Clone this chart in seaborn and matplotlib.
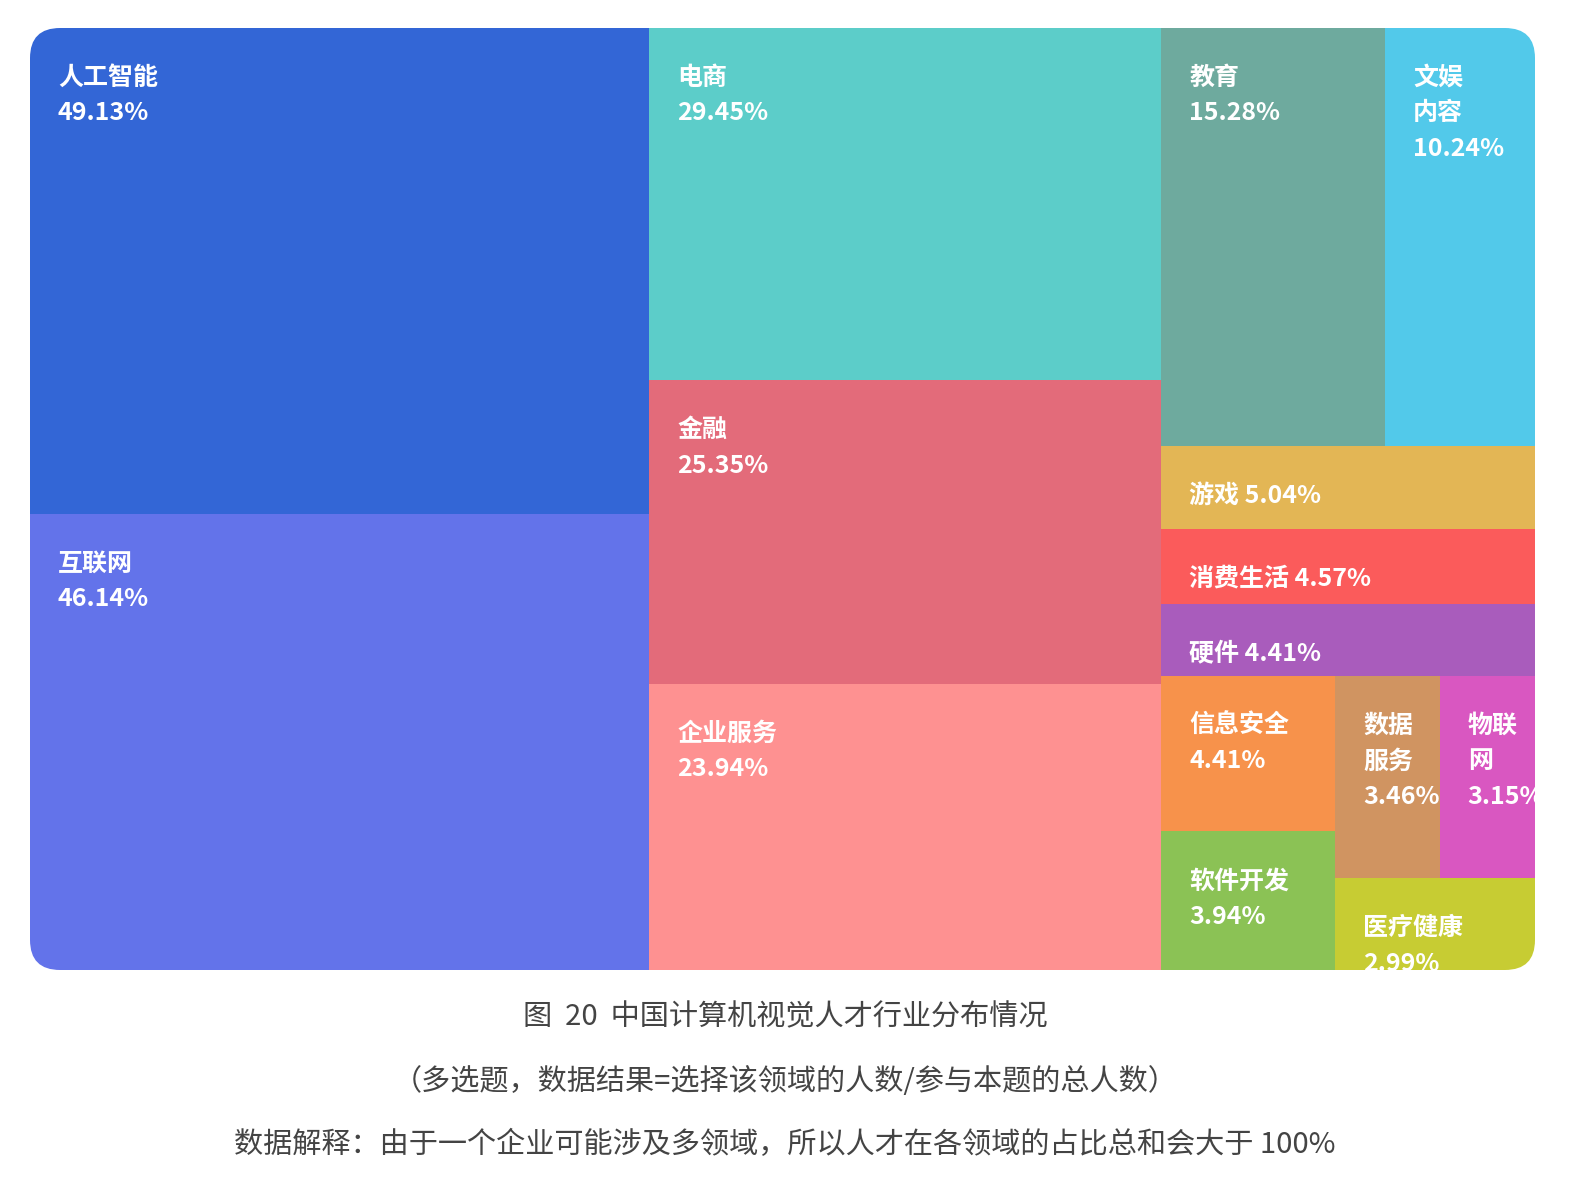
import matplotlib.pyplot as plt
import seaborn as sns
from matplotlib.patches import Rectangle, FancyBboxPatch

sns.set_theme(style="white")
plt.rcParams['font.family'] = ['Noto Sans CJK SC', 'DejaVu Sans']

names = ['人工智能', '互联网', '电商', '金融', '企业服务', '教育', '文娱内容', '游戏', '消费生活',
         '硬件', '信息安全', '软件开发', '数据服务', '物联网', '医疗健康']
values = [49.13, 46.14, 29.45, 25.35, 23.94, 15.28, 10.24, 5.04, 4.57, 4.41, 4.41, 3.94, 3.46, 3.15, 2.99]
labels = ['人工智能\n49.13%', '互联网\n46.14%', '电商\n29.45%', '金融\n25.35%', '企业服务\n23.94%',
          '教育\n15.28%', '文娱\n内容\n10.24%', '游戏 5.04%', '消费生活 4.57%', '硬件 4.41%',
          '信息安全\n4.41%', '软件开发\n3.94%', '数据\n服务\n3.46%', '物联\n网\n3.15%', '医疗健康\n2.99%']
colors = ['#3366d6', '#6373ea', '#5ccdc9', '#e36b7a', '#fe9191', '#6eaa9e', '#52c9ea', '#e3b655',
          '#fb5b5b', '#a95cbc', '#f7924b', '#8bc255', '#d09461', '#d957c1', '#c7cc33']
palette = sns.color_palette(colors)

# nesting of the treemap: 'h' = side by side, 'v' = stacked
tree = ('h', [('v', [0, 1]), ('v', [2, 3, 4]),
              ('v', [('h', [5, 6]), 7, 8, 9,
                     ('h', [('v', [10, 11]), ('v', [('h', [12, 13]), 14])])])])


def weight(node):
    if isinstance(node, int):
        return values[node]
    return sum(weight(c) for c in node[1])


rects = {}


def layout(node, x, y, w, h):
    if isinstance(node, int):
        rects[node] = (x, y, w, h)
        return
    d, kids = node
    tot = weight(node)
    pos = 0
    for k in kids:
        f = weight(k) / tot
        if d == 'h':
            layout(k, x + pos * w, y, f * w, h)
        else:
            layout(k, x, y + pos * h, w, f * h)
        pos += f


layout(tree, 0, 0, 1, 1)

fig = plt.figure(figsize=(15.7, 11.78), dpi=100)
ax = fig.add_axes([30 / 1570, 1 - 970 / 1178, 1505 / 1570, 942 / 1178])
ax.set_xlim(0, 1)
ax.set_ylim(1, 0)
ax.axis('off')

clip = FancyBboxPatch((0, 0), 1, 1, boxstyle="round,pad=0,rounding_size=0.02",
                      transform=ax.transData, facecolor='none', edgecolor='none',
                      mutation_aspect=1505 / 942)
ax.add_patch(clip)

for i in range(len(values)):
    x, y, w, h = rects[i]
    r = Rectangle((x, y), w, h, facecolor=palette[i], edgecolor='none')
    ax.add_patch(r)
    r.set_clip_path(clip)
    t = ax.text(x + 28 / 1505, y + 38 / 942, labels[i], color='white', fontsize=18, fontweight='bold',
                va='top', ha='left', linespacing=1.6)
    t.set_clip_path(clip)

caps = ['图  20  中国计算机视觉人才行业分布情况',
        '（多选题，数据结果=选择该领域的人数/参与本题的总人数）',
        '数据解释：由于一个企业可能涉及多领域，所以人才在各领域的占比总和会大于 100%']
for yy, c in zip([1017, 1082, 1145], caps):
    fig.text(0.5, 1 - yy / 1178, c, ha='center', va='center', fontsize=21, color='#444444')

fig.savefig('out.png', dpi=100)
